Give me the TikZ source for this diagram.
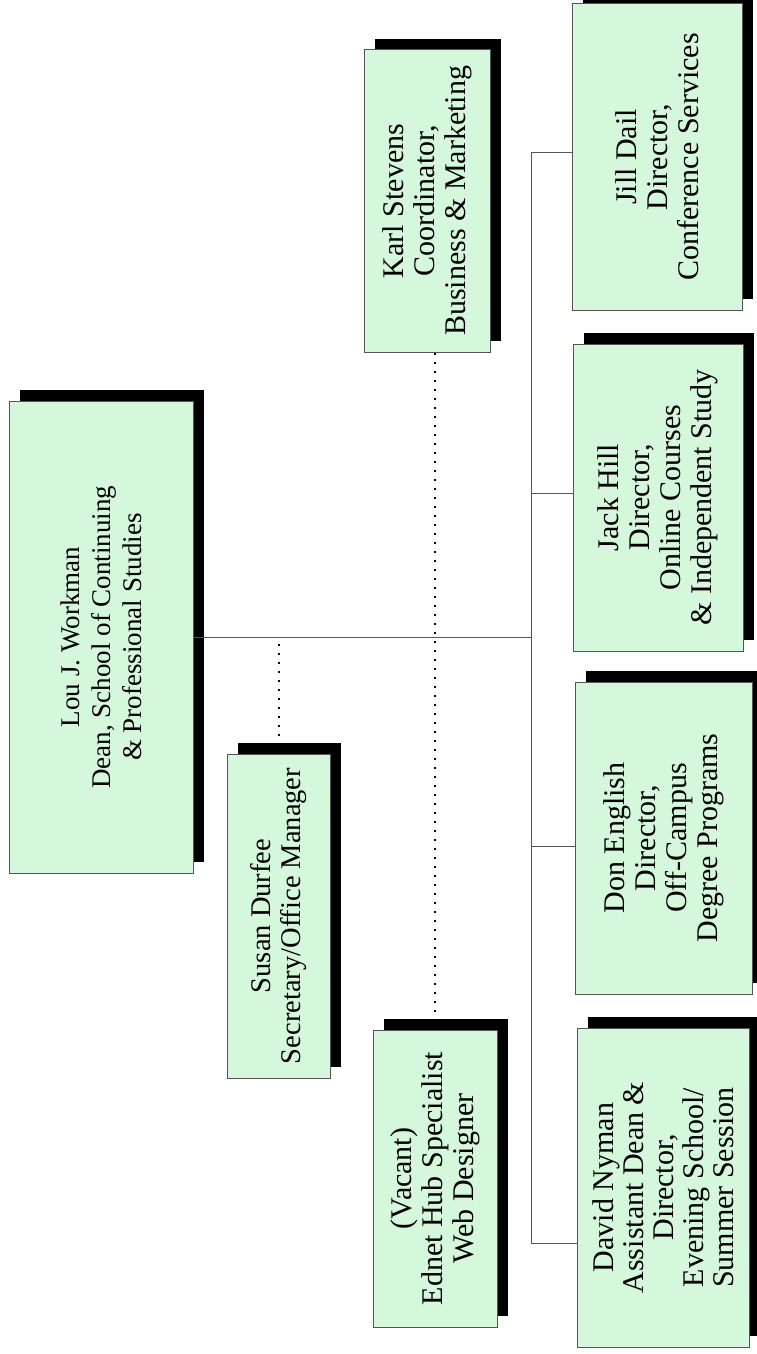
\documentclass[tikz,border=0pt]{standalone}
\usepackage{fontspec}
\setmainfont{Liberation Serif}

\definecolor{boxgreen}{RGB}{213,248,220}
\definecolor{linegray}{RGB}{85,85,85}

% box with its black shadow up and to the right
\newcommand{\orgbox}[7][]{%
  \node[shadowbox, minimum width=#6pt, minimum height=#5pt] at ({#3+11},{#4-11}) {};
  \node[orgbox, minimum width=#6pt, minimum height=#5pt, #1] (#2) at (#3,#4) {#7};
}

\begin{document}
\begin{tikzpicture}[x=1pt, y=-1pt,
    shadowbox/.style={fill=black, rotate=90, inner sep=0pt},
    orgbox/.style={draw=linegray, line width=1pt, fill=boxgreen, rotate=90,
      inner sep=0pt, align=center, font=\fontsize{30}{31}\selectfont},
    conn/.style={draw=linegray, line width=1pt},
    dots/.style={line width=2pt, dash pattern=on 2pt off 7pt}]
  \useasboundingbox (0,0) rectangle (757,1354);

  \orgbox[font=\fontsize{27}{31}\selectfont]{lou}{101}{637}{184}{472}{Lou J. Workman\\Dean, School of Continuing\\\& Professional Studies}
  \orgbox[font=\fontsize{28.5}{30}\selectfont]{susan}{278.5}{916}{103}{324}{Susan Durfee\\Secretary/Office Manager}
  \orgbox{karl}{427}{201}{126}{302}{Karl Stevens\\Coordinator,\\Business \& Marketing}
  \orgbox{vacant}{435}{1178.5}{124}{297}{(Vacant)\\Ednet Hub Specialist\\Web Designer}
  \orgbox{jill}{657}{157}{170}{306}{Jill Dail\\Director,\\Conference Services}
  \orgbox{jack}{658}{497.5}{170}{307}{Jack Hill\\Director,\\Online Courses\\\& Independent Study}
  \orgbox{don}{663.5}{838}{177}{312}{Don English\\Director,\\Off-Campus\\Degree Programs}
  \orgbox[font=\fontsize{30}{30}\selectfont]{david}{663}{1187.5}{172}{319}{David Nyman\\Assistant Dean \&\\Director,\\Evening School/\\Summer Session}

  % reporting lines
  \coordinate (bustop) at (531,152);
  \coordinate (busbot) at (531,1243);
  \draw[conn] (bustop) -- (busbot);
  \draw[conn] (lou.south) -- (lou.south -| bustop);
  \foreach \n/\y in {jill/152, jack/493, don/846, david/1243}
    \draw[conn] (531,\y) -- (\n.north |- 531,\y);

  % staff lines
  \draw[dots] (susan.east) -- (susan.east |- lou.south);
  \draw[dots] (vacant.east) -- (vacant.east |- karl.west);
\end{tikzpicture}
\end{document}
